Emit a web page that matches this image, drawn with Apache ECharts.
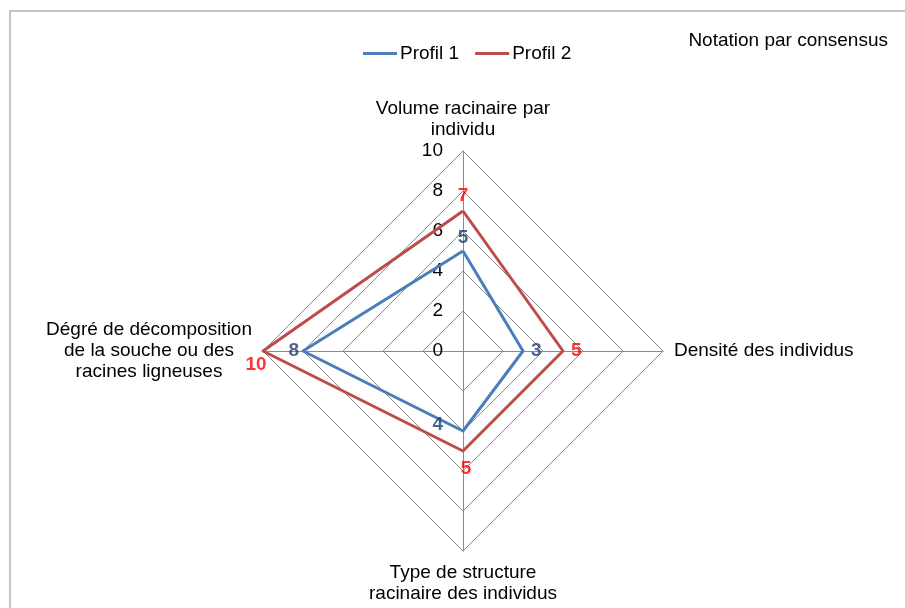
<!DOCTYPE html>
<html>
<head>
<meta charset="utf-8">
<script src="https://cdn.jsdelivr.net/npm/echarts@6/dist/echarts.min.js"></script>
<style>
  html, body { margin: 0; padding: 0; background: #fff; }
  #chart { width: 905px; height: 608px; }
</style>
</head>
<body>
<div id="chart"></div>
<script>
// Radar axes, listed counter-clockwise from the top
const indicatorNames = [
  'Volume racinaire par\nindividu',
  'Dégré de décomposition\nde la souche ou des\nracines ligneuses',
  'Type de structure\nracinaire des individus',
  'Densité des individus'
];
const seriesNames = ['Profil 1', 'Profil 2'];
const profil1 = [5, 8, 4, 3];
const profil2 = [7, 10, 5, 5];
const scaleMax = 10;
const scaleStep = 2;

// Where each value label sits relative to its vertex
const labelPlacement1 = [
  { position: 'top', distance: 4, offset: [0, 0] },
  { position: 'left', distance: 4, offset: [0, 0] },
  { position: 'left', distance: 20, offset: [0, -6] },
  { position: 'right', distance: 8, offset: [0, 0] }
];
const labelPlacement2 = [
  { position: 'top', distance: 6, offset: [0, 0] },
  { position: 'bottom', distance: 2, offset: [-7, 2] },
  { position: 'bottom', distance: 8, offset: [3, 0] },
  { position: 'right', distance: 8, offset: [0, 0] }
];

const FONT = 'Liberation Sans, Arial, sans-serif';
const FS = 19;
const CX = 463, CY = 351, R = 200;
const blue = '#4a7ebb', red = '#be4b48';
const blueLabel = '#1f3f73', redLabel = '#ff0000';

function valueLabels(values, placement, color) {
  return values.map((v, i) => ({
    value: [v, indicatorNames[i]],
    label: {
      show: true,
      position: placement[i].position,
      distance: placement[i].distance,
      offset: placement[i].offset,
      formatter: String(v),
      color: color,
      fontSize: 19,
      fontWeight: 'bold',
      fontFamily: FONT
    }
  }));
}

const chart = echarts.init(document.getElementById('chart'), null, { renderer: 'canvas' });

chart.setOption({
  animation: false,
  backgroundColor: '#fff',
  textStyle: { fontFamily: FONT },
  title: {
    text: 'Notation par consensus',
    right: 12,
    top: 26,
    textStyle: { fontSize: FS, fontWeight: 'normal', color: '#000', fontFamily: FONT }
  },
  legend: {
    data: seriesNames,
    top: 39,
    left: 358,
    icon: 'rect',
    itemWidth: 34,
    itemHeight: 3,
    itemGap: 16,
    textStyle: { fontSize: FS, color: '#000', fontFamily: FONT, padding: [0, 0, 0, -2] }
  },
  graphic: [{
    type: 'rect',
    shape: { x: 10, y: 11, width: 1000, height: 1000 },
    style: { fill: 'none', stroke: '#c4c4c4', lineWidth: 2 },
    silent: true,
    z: -10
  }],
  radar: {
    center: [CX, CY],
    radius: R,
    shape: 'polygon',
    startAngle: 90,
    splitNumber: scaleMax / scaleStep,
    indicator: indicatorNames.map(n => ({ name: n, min: 0, max: scaleMax })),
    axisName: {
      color: '#000',
      fontSize: FS,
      fontFamily: FONT,
      lineHeight: 21,
      formatter: function (name) {
        return name.split('\n').map(l => '{c|' + l + '}').join('\n');
      },
      rich: {
        c: { fontSize: FS, lineHeight: 21, color: '#000', fontFamily: FONT, align: 'center' }
      }
    },
    nameGap: 11,
    splitLine: { lineStyle: { color: '#8a8a8a', width: 1 } },
    splitArea: { show: false },
    axisLine: { lineStyle: { color: '#8a8a8a', width: 1 } },
    axisTick: { show: false },
    axisLabel: { show: false }
  },
  polar: { center: [CX, CY], radius: R },
  angleAxis: {
    type: 'category',
    data: indicatorNames,
    startAngle: 45,
    clockwise: false,
    show: false
  },
  radiusAxis: { type: 'value', min: 0, max: scaleMax, show: false },
  grid: { left: CX, top: CY - R, width: 1, height: R },
  xAxis: { type: 'value', show: false },
  yAxis: {
    type: 'value',
    min: 0,
    max: scaleMax,
    interval: scaleStep,
    axisLine: { show: false },
    axisTick: { show: false },
    splitLine: { show: false },
    axisLabel: { margin: 20, fontSize: FS, color: '#000', fontFamily: FONT }
  },
  series: [
    {
      type: 'radar',
      name: 'radar',
      symbol: 'none',
      data: [
        { name: seriesNames[0], value: profil1, lineStyle: { color: blue, width: 3 }, itemStyle: { color: blue } },
        { name: seriesNames[1], value: profil2, lineStyle: { color: red, width: 3 }, itemStyle: { color: red } }
      ],
      z: 3
    },
    {
      type: 'scatter',
      coordinateSystem: 'polar',
      symbolSize: 0,
      silent: true,
      data: valueLabels(profil1, labelPlacement1, blueLabel),
      z: 5
    },
    {
      type: 'scatter',
      coordinateSystem: 'polar',
      symbolSize: 0,
      silent: true,
      data: valueLabels(profil2, labelPlacement2, redLabel),
      z: 5
    }
  ]
});
</script>
</body>
</html>
